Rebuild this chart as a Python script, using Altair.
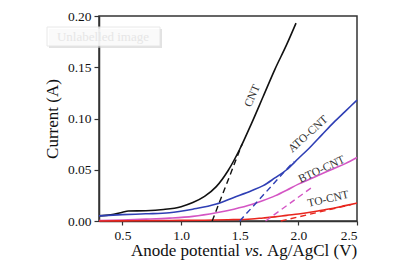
import altair as alt
import pandas as pd

# ---- data ----
cnt_v = [0.30, 0.40, 0.50, 0.55, 0.70, 0.85, 1.00, 1.10, 1.20, 1.30, 1.40, 1.50, 1.60, 1.70, 1.80, 1.90, 1.98]
cnt_i = [0.0050, 0.0060, 0.0085, 0.0097, 0.0100, 0.0112, 0.0140, 0.0180, 0.0240, 0.0335, 0.0490, 0.0700, 0.0950, 0.1215, 0.1480, 0.1720, 0.1930]

ato_v = [0.30, 0.50, 0.70, 0.90, 1.10, 1.30, 1.45, 1.60, 1.70, 1.80, 1.90, 2.00, 2.10, 2.20, 2.30, 2.40, 2.50]
ato_i = [0.0050, 0.0062, 0.0070, 0.0080, 0.0115, 0.0165, 0.0230, 0.0295, 0.0345, 0.0420, 0.0500, 0.0610, 0.0720, 0.0840, 0.0960, 0.1070, 0.1180]

bto_v = [0.30, 0.50, 0.70, 0.90, 1.10, 1.30, 1.45, 1.60, 1.70, 1.80, 1.90, 2.00, 2.10, 2.20, 2.30, 2.40, 2.50]
bto_i = [0.0005, 0.0010, 0.0018, 0.0028, 0.0045, 0.0080, 0.0115, 0.0160, 0.0200, 0.0245, 0.0300, 0.0360, 0.0410, 0.0460, 0.0510, 0.0560, 0.0620]

to_v = [0.30, 0.60, 0.90, 1.20, 1.40, 1.60, 1.70, 1.80, 1.90, 2.00, 2.10, 2.20, 2.30, 2.40, 2.50]
to_i = [0.0000, 0.0002, 0.0005, 0.0008, 0.0012, 0.0020, 0.0030, 0.0040, 0.0055, 0.0068, 0.0085, 0.0105, 0.0125, 0.0150, 0.0175]

# tangent (onset) lines: start and end points
tan_series = ["CNT", "CNT", "ATO-CNT", "ATO-CNT", "BTO-CNT", "BTO-CNT", "TO-CNT", "TO-CNT"]
tan_v = [1.265, 1.52, 1.50, 1.96, 1.72, 2.13, 1.85, 2.45]
tan_i = [0.0, 0.075, 0.0, 0.058, 0.0, 0.034, 0.0, 0.016]

# curve labels
lab_text = ["CNT", "ATO-CNT", "BTO-CNT", "TO-CNT"]
lab_v = [1.61, 2.085, 2.20, 2.255]
lab_i = [0.122, 0.0845, 0.050, 0.021]
lab_angle = [294, 318, 335, 347]

series_names = ["CNT", "ATO-CNT", "BTO-CNT", "TO-CNT"]
series_colors = ["#111111", "#2f3fb5", "#d455c4", "#e8261e"]

x_ticks = [0.5, 0.75, 1.0, 1.25, 1.5, 1.75, 2.0, 2.25, 2.5]
y_ticks = [0.0, 0.025, 0.05, 0.075, 0.1, 0.125, 0.15, 0.175, 0.2]

# ---- build tables ----
rows = []
for name, vs, cs in [("CNT", cnt_v, cnt_i), ("ATO-CNT", ato_v, ato_i),
                     ("BTO-CNT", bto_v, bto_i), ("TO-CNT", to_v, to_i)]:
    for k, (v, c) in enumerate(zip(vs, cs)):
        rows.append({"series": name, "V": v, "I": c, "order": k})
curves = pd.DataFrame(rows)
tangents = pd.DataFrame({"series": tan_series, "V": tan_v, "I": tan_i})
labels = pd.DataFrame({"text": lab_text, "V": lab_v, "I": lab_i, "angle": lab_angle})

FONT = "Liberation Serif"

xscale = alt.Scale(domain=[0.3, 2.5], nice=False, zero=False)
yscale = alt.Scale(domain=[0.0, 0.2], nice=False)
color = alt.Color("series:N", scale=alt.Scale(domain=series_names, range=series_colors), legend=None)

xaxis = alt.Axis(values=x_ticks, format=".1f",
                 labelExpr="round(datum.value*4) % 2 == 0 ? datum.label : ''",
                 labelFont=FONT, labelFontSize=13.5,
                 title=None, grid=False, tickSize=4, labelPadding=3)
yaxis = alt.Axis(values=y_ticks, format=".2f",
                 labelExpr="round(datum.value*100) % 5 == 0 ? datum.label : ''",
                 labelFont=FONT, labelFontSize=13.5,
                 titleFont=FONT, titleFontSize=17, titleFontWeight="normal",
                 title="Current (A)", grid=False, tickSize=5, labelPadding=3, titlePadding=6)

base = alt.Chart(curves)

lines = base.mark_line(strokeWidth=1.6, interpolate="monotone").encode(
    x=alt.X("V:Q", scale=xscale, axis=xaxis),
    y=alt.Y("I:Q", scale=yscale, axis=yaxis),
    color=color,
    order="order:Q",
)

dashes = alt.Chart(tangents).mark_line(strokeWidth=1.4, strokeDash=[6, 4]).encode(
    x=alt.X("V:Q", scale=xscale),
    y=alt.Y("I:Q", scale=yscale),
    color=color,
    detail="series:N",
)

texts = alt.Chart(labels).mark_text(font=FONT, fontSize=11.5, color="#333333").encode(
    x=alt.X("V:Q", scale=xscale),
    y=alt.Y("I:Q", scale=yscale),
    text="text:N",
    angle=alt.Angle("angle:Q", scale=None),
)

# x-axis title in three parts (italic "vs.")
TS = 17
t1 = alt.Chart(pd.DataFrame({"t": ["Anode potential"]})).mark_text(
    font=FONT, fontSize=TS, align="right", baseline="middle", color="#111").encode(
    text="t:N", x=alt.value(141), y=alt.value(235))
t2 = alt.Chart(pd.DataFrame({"t": ["vs."]})).mark_text(
    font=FONT, fontSize=TS, fontStyle="italic", align="center", baseline="middle", color="#111").encode(
    text="t:N", x=alt.value(155), y=alt.value(235))
t3 = alt.Chart(pd.DataFrame({"t": ["Ag/AgCl (V)"]})).mark_text(
    font=FONT, fontSize=TS, align="left", baseline="middle", color="#111").encode(
    text="t:N", x=alt.value(168), y=alt.value(235))

# faint overlay box seen in the reference
shadow = alt.Chart(pd.DataFrame({"a": [0]})).mark_rect(fill="#cfcfcf", opacity=0.6).encode(
    x=alt.value(-50), x2=alt.value(63), y=alt.value(13), y2=alt.value(32))
box = alt.Chart(pd.DataFrame({"a": [0]})).mark_rect(fill="white", stroke="#e6e6e6", strokeWidth=1, opacity=0.85).encode(
    x=alt.value(-52), x2=alt.value(61), y=alt.value(11), y2=alt.value(30))
boxtext = alt.Chart(pd.DataFrame({"t": ["Unlabelled image"]})).mark_text(
    font=FONT, fontSize=13, color="#e6e6e6", align="center", baseline="middle").encode(
    text="t:N", x=alt.value(4), y=alt.value(20.5))

chart = alt.layer(lines, dashes, texts, t1, t2, t3, shadow, box, boxtext).properties(
    width=258, height=205,
    autosize=alt.AutoSizeParams(type="none"),
    padding={"left": 99, "top": 16, "right": 48, "bottom": 42},
    background="white",
).configure_view(
    stroke="#333333", strokeWidth=1.5
).configure_axis(
    labelFont=FONT, titleFont=FONT,
    titleFontWeight="normal", labelColor="#111", titleColor="#111",
    domainColor="#333", domainWidth=1.5, tickColor="#333", tickWidth=1.2,
)

chart.save("out.html", embed_options={"renderer": "svg", "actions": False})
